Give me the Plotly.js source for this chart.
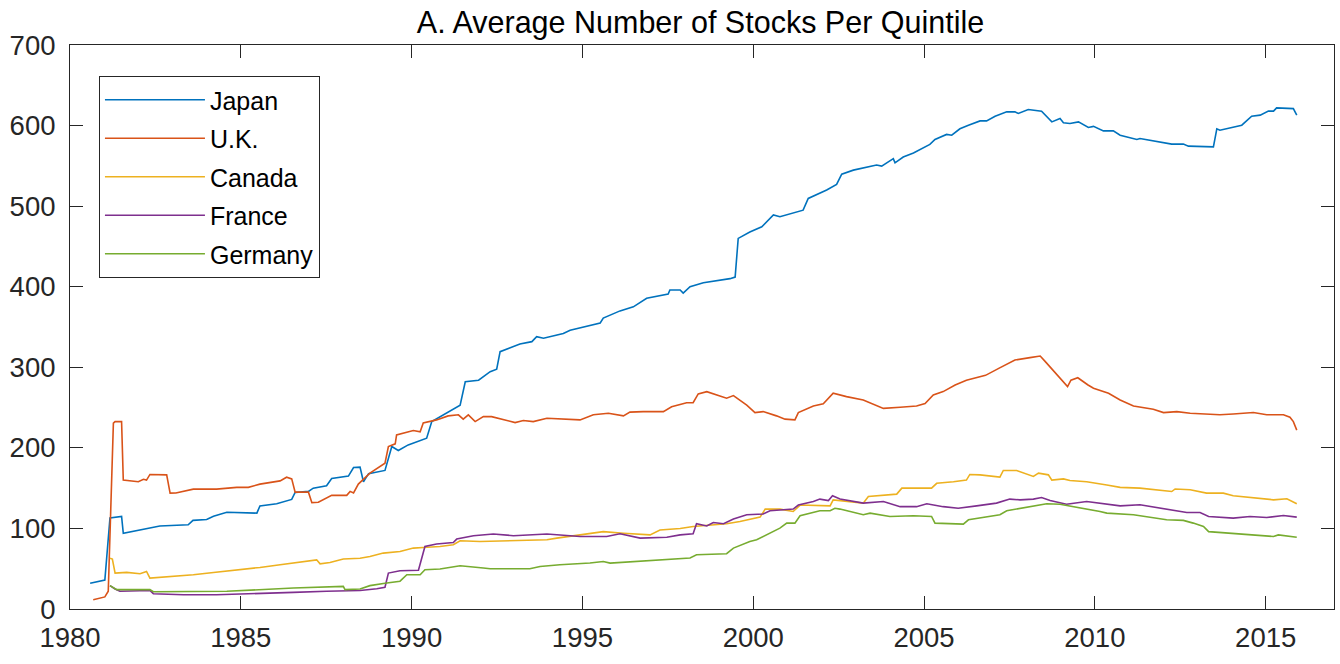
<!DOCTYPE html>
<html>
<head>
<meta charset="utf-8">
<script src="https://cdn.plot.ly/plotly-3.0.1.min.js"></script>
<style>html,body{margin:0;padding:0;background:#fff;}#chart{width:1340px;height:664px;}</style>
</head>
<body>
<div id="chart"></div>
<script>
// Series names
const seriesNames = ["Japan", "U.K.", "Canada", "France", "Germany"];

// Japan (decimal year, number of stocks)
const japanX = [1980.59,1981.02,1981.17,1981.51,1981.56,1982.24,1982.63,1983.46,1983.6,1984.0,1984.2,1984.59,1985.47,1985.56,1986.05,1986.49,1986.59,1986.98,1987.12,1987.51,1987.66,1988.15,1988.3,1988.49,1988.59,1988.74,1989.22,1989.42,1989.61,1989.9,1990.44,1990.59,1991.42,1991.57,1991.96,1992.3,1992.49,1992.59,1993.17,1993.52,1993.66,1993.86,1994.44,1994.64,1995.52,1995.61,1996.1,1996.49,1996.88,1997.51,1997.56,1997.86,1997.95,1998.15,1998.54,1999.32,1999.47,1999.56,1999.9,2000.25,2000.39,2000.59,2000.78,2001.46,2001.61,2002.15,2002.44,2002.59,2002.93,2003.61,2003.76,2004.1,2004.15,2004.39,2004.69,2005.17,2005.32,2005.66,2005.81,2006.05,2006.3,2006.64,2006.83,2007.08,2007.42,2007.66,2007.76,2008.05,2008.44,2008.59,2008.74,2008.98,2009.08,2009.27,2009.52,2009.81,2009.96,2010.25,2010.54,2010.74,2011.23,2011.32,2011.91,2012.25,2012.59,2012.74,2013.47,2013.57,2013.66,2013.96,2014.3,2014.59,2014.84,2015.08,2015.23,2015.32,2015.81,2015.91];
const japanY = [32,36,113,115,94,100,103,104.5,110,111,115,120,119,128,130.6,136,144.6,146,150,153,162,165,175.6,176,158,168,172,201.6,196.7,203.7,212,232.6,253,282,284,294.6,297.6,319.4,329,331.8,338,336,342,346,355,361,370,375,385.6,391,396,396,392,400,405,410,412,460,468,474.4,480.6,489,486.8,495,509.6,520,527,539.7,544.7,551,549.7,559,553.8,561,566,576.6,582.8,589,588,596,600.5,605.8,605.8,611.6,617,617,615,620,617.9,610.8,604.6,608.8,603.4,602.6,604.6,597.6,599,593.4,593.4,588,582.8,584,579.8,577,577,574.5,573.6,596,594.3,597.6,600.5,611.6,613,618,617.9,622,621,613];

// U.K.
const ukX = [1980.68,1981.02,1981.12,1981.27,1981.32,1981.51,1981.56,1982.0,1982.15,1982.24,1982.34,1982.83,1982.93,1983.1,1983.61,1984.29,1984.88,1985.22,1985.56,1986.15,1986.34,1986.49,1986.59,1986.98,1987.08,1987.27,1987.66,1988.1,1988.2,1988.3,1988.44,1988.78,1989.22,1989.32,1989.52,1989.56,1990.05,1990.25,1990.34,1990.73,1991.07,1991.37,1991.51,1991.66,1991.86,1992.1,1992.34,1992.69,1993.03,1993.27,1993.56,1993.96,1994.44,1994.93,1995.32,1995.76,1996.2,1996.39,1996.78,1997.37,1997.61,1998.05,1998.24,1998.39,1998.64,1999.22,1999.42,1999.81,2000.05,2000.29,2000.68,2000.93,2001.22,2001.32,2001.76,2002.05,2002.34,2002.73,2003.22,2003.51,2003.81,2004.3,2004.78,2005.03,2005.27,2005.56,2005.91,2006.24,2006.8,2007.2,2007.66,2008.1,2008.4,2008.55,2008.7,2008.9,2009.1,2009.2,2009.3,2009.5,2009.8,2009.96,2010.4,2010.74,2011.13,2011.71,2012.01,2012.4,2012.79,2013.18,2013.66,2014.05,2014.64,2015.03,2015.52,2015.71,2015.81,2015.91];
const ukY = [11.5,15,22,230.6,232.6,232.6,160,158,161,160,167,166.5,143.8,144,148.8,148.8,151,151,155,159,163.6,161.5,145,145,132,132.5,141,141,146,144,155,168.6,181,201.6,205,216,221.5,220,231,234.7,239.7,241,235.6,241,232.6,238.8,238.8,234.7,231.4,233.9,232.6,236.8,236,234.7,241,243,239.7,244.3,245,245,251,256,256,267,269.8,261.6,264.9,253,243.8,245,239.7,235.6,234.7,243.8,252,254.6,267.8,263.6,259.5,254.6,249,250.4,252,255,265.7,269.8,278,284,290,299,309,312,314,307,300,290,281,276,284,287,278,274,267.8,259.5,252,248,243.8,245,243,241.8,241,242,243.8,241,241,238,232.6,222];

// Canada
const canadaX = [1981.17,1981.24,1981.32,1981.66,1982.05,1982.24,1982.34,1982.83,1983.61,1984.2,1984.98,1985.56,1986.15,1986.83,1987.22,1987.32,1987.61,1988.0,1988.49,1988.78,1989.17,1989.66,1990.05,1990.34,1990.83,1991.22,1991.42,1992.0,1992.98,1993.96,1994.25,1994.93,1995.61,1996.2,1996.98,1997.27,1997.86,1998.24,1998.73,1999.22,1999.61,2000.2,2000.35,2000.78,2001.17,2001.37,2002.25,2002.34,2003.22,2003.37,2004.2,2004.35,2005.22,2005.37,2005.86,2006.24,2006.34,2006.64,2007.22,2007.32,2007.71,2008.2,2008.35,2008.64,2008.74,2009.08,2009.27,2009.76,2010.35,2010.74,2011.32,2011.71,2012.25,2012.35,2012.79,2013.27,2013.76,2014.05,2014.84,2015.23,2015.62,2015.91];
const canadaY = [63,62,44.6,45.4,43.8,46.6,38.4,39.7,42.5,45.4,48.7,51.6,55,59,61,56,57.8,62,63,65.2,69.4,71.4,75.6,76.4,77.6,79.7,84.7,83.8,85,86,88,92,96,94,92,98,100,102.4,104.5,105.8,108.6,114,124,124,121,129,128,135.5,131.4,139.6,142.6,150,150,156,158,160,167,166.5,163.7,171.9,171.9,164.5,168.6,166.5,160,161.5,159.5,158,154,151,150,148,145.8,149,148,143.8,143.8,140.5,137.6,135.5,136.8,130.6];

// France
const franceX = [1981.17,1981.32,1981.46,1982.34,1982.44,1983.32,1984.29,1985.56,1986.54,1987.51,1988.49,1988.98,1989.22,1989.32,1989.66,1990.2,1990.39,1990.73,1991.22,1991.32,1991.81,1992.39,1992.98,1993.96,1994.25,1994.93,1995.71,1996.1,1996.69,1997.47,1997.86,1998.24,1998.34,1998.64,1998.83,1999.13,1999.42,1999.81,2000.29,2000.49,2001.17,2001.32,2001.76,2001.95,2002.2,2002.32,2002.54,2003.22,2003.81,2004.3,2004.78,2005.08,2005.56,2006.0,2006.54,2007.12,2007.51,2007.81,2008.2,2008.44,2008.69,2009.17,2009.76,2010.25,2010.74,2011.32,2012.0,2012.69,2013.08,2013.33,2014.05,2014.54,2015.03,2015.52,2015.91];
const franceY = [29,24.8,22,23,19,17.7,17.7,19.8,20.6,22,23,25.2,27,44.6,47.5,48,77.6,80.6,82.6,86.8,91,93,91,93,92,90,90,93.4,88,89,92,93.4,105.8,103,107.4,105.8,111.6,117,118,121.9,124,129,133.4,136.4,134.6,140.5,136.4,131.4,133.4,127,127,130.6,127,125,128,131.4,136.4,135.5,136.4,138.4,134.6,130,133.4,130.6,128,129.3,125,119.8,119.8,114.8,112.8,114.8,113.6,116,114];

// Germany
const germanyX = [1981.17,1981.37,1982.34,1982.44,1984.59,1985.56,1986.54,1988.0,1988.05,1988.49,1988.78,1989.22,1989.47,1989.66,1989.86,1990.25,1990.39,1990.83,1991.42,1991.71,1992.1,1992.3,1993.46,1993.76,1994.34,1995.22,1995.61,1995.81,1996.59,1997.18,1998.15,1998.34,1998.83,1999.22,1999.42,1999.9,2000.1,2000.39,2000.78,2000.98,2001.22,2001.37,2001.76,2001.95,2002.25,2002.39,2002.54,2003.22,2003.42,2004.0,2004.69,2005.22,2005.32,2006.15,2006.3,2006.74,2007.22,2007.42,2008.0,2008.3,2008.59,2008.98,2009.47,2010.15,2010.35,2011.13,2012.1,2012.59,2012.88,2013.18,2013.33,2014.05,2014.64,2015.23,2015.37,2015.91];
const germanyY = [29,24,24,21.5,22,24,26,28,24,24.8,29,32,33,34.5,42.5,42.5,48.7,49.6,53.7,52.8,50.8,50,50,52.8,55,57,59,57,59,60.3,63.2,67.3,68.2,68.6,75.6,83.8,85.9,92,100.4,106.6,106.6,115.7,119.8,122,122,125,124,117,119,114.8,115.7,114.8,106.6,105.4,110.7,114,117,122,126.5,128,130.6,130,126.5,121,119,117,110.7,110,106.6,102.4,96,94,92,90,92,89];

// Axis ticks
const xTickVals = [1980, 1985, 1990, 1995, 2000, 2005, 2010, 2015];
const yTickVals = [0, 100, 200, 300, 400, 500, 600, 700];

const colors = ["#0072BD", "#D95319", "#EDB120", "#7E2F8E", "#77AC30"];
const xs = [japanX, ukX, canadaX, franceX, germanyX];
const ys = [japanY, ukY, canadaY, franceY, germanyY];

const FONT = "'Liberation Sans', Arial, Helvetica, sans-serif";

const traces = seriesNames.map((name, i) => ({
  type: "scatter",
  mode: "lines",
  name: name,
  legendgroup: "g" + i,
  x: xs[i],
  y: ys[i],
  line: { color: colors[i], width: 1.6 }
}));

const axisCommon = {
  showline: true,
  linecolor: "#262626",
  linewidth: 1,
  mirror: "ticks",
  ticks: "inside",
  ticklen: 13,
  tickwidth: 1,
  tickcolor: "#262626",
  showgrid: false,
  zeroline: false,
  tickfont: { family: FONT, size: 27.5, color: "#262626" }
};

const layout = {
  width: 1340,
  height: 664,
  margin: { l: 70, r: 6, t: 45, b: 55 },
  paper_bgcolor: "#ffffff",
  plot_bgcolor: "#ffffff",
  title: {
    text: "A. Average Number of Stocks Per Quintile",
    font: { family: FONT, size: 30.5, color: "#000000" },
    x: 0.5228, xanchor: "center",
    y: 0.967, yanchor: "middle", yref: "container"
  },
  xaxis: Object.assign({}, axisCommon, {
    range: [1980, 2017],
    tickmode: "array",
    tickvals: xTickVals,
    ticktext: xTickVals.map(String),
    ticklabelstandoff: 4
  }),
  yaxis: Object.assign({}, axisCommon, {
    range: [0, 700],
    tickmode: "array",
    tickvals: yTickVals,
    ticktext: yTickVals.map(String),
    ticklabelstandoff: 8
  }),
  showlegend: true,
  legend: {
    x: 0.0229, y: 0.945, xanchor: "left", yanchor: "top",
    bgcolor: "#ffffff",
    bordercolor: "#262626",
    borderwidth: 1,
    itemwidth: 100,
    tracegroupgap: 3,
    font: { family: FONT, size: 25, color: "#000000" }
  }
};

Plotly.newPlot("chart", traces, layout, { displayModeBar: false, staticPlot: true });
</script>
</body>
</html>
